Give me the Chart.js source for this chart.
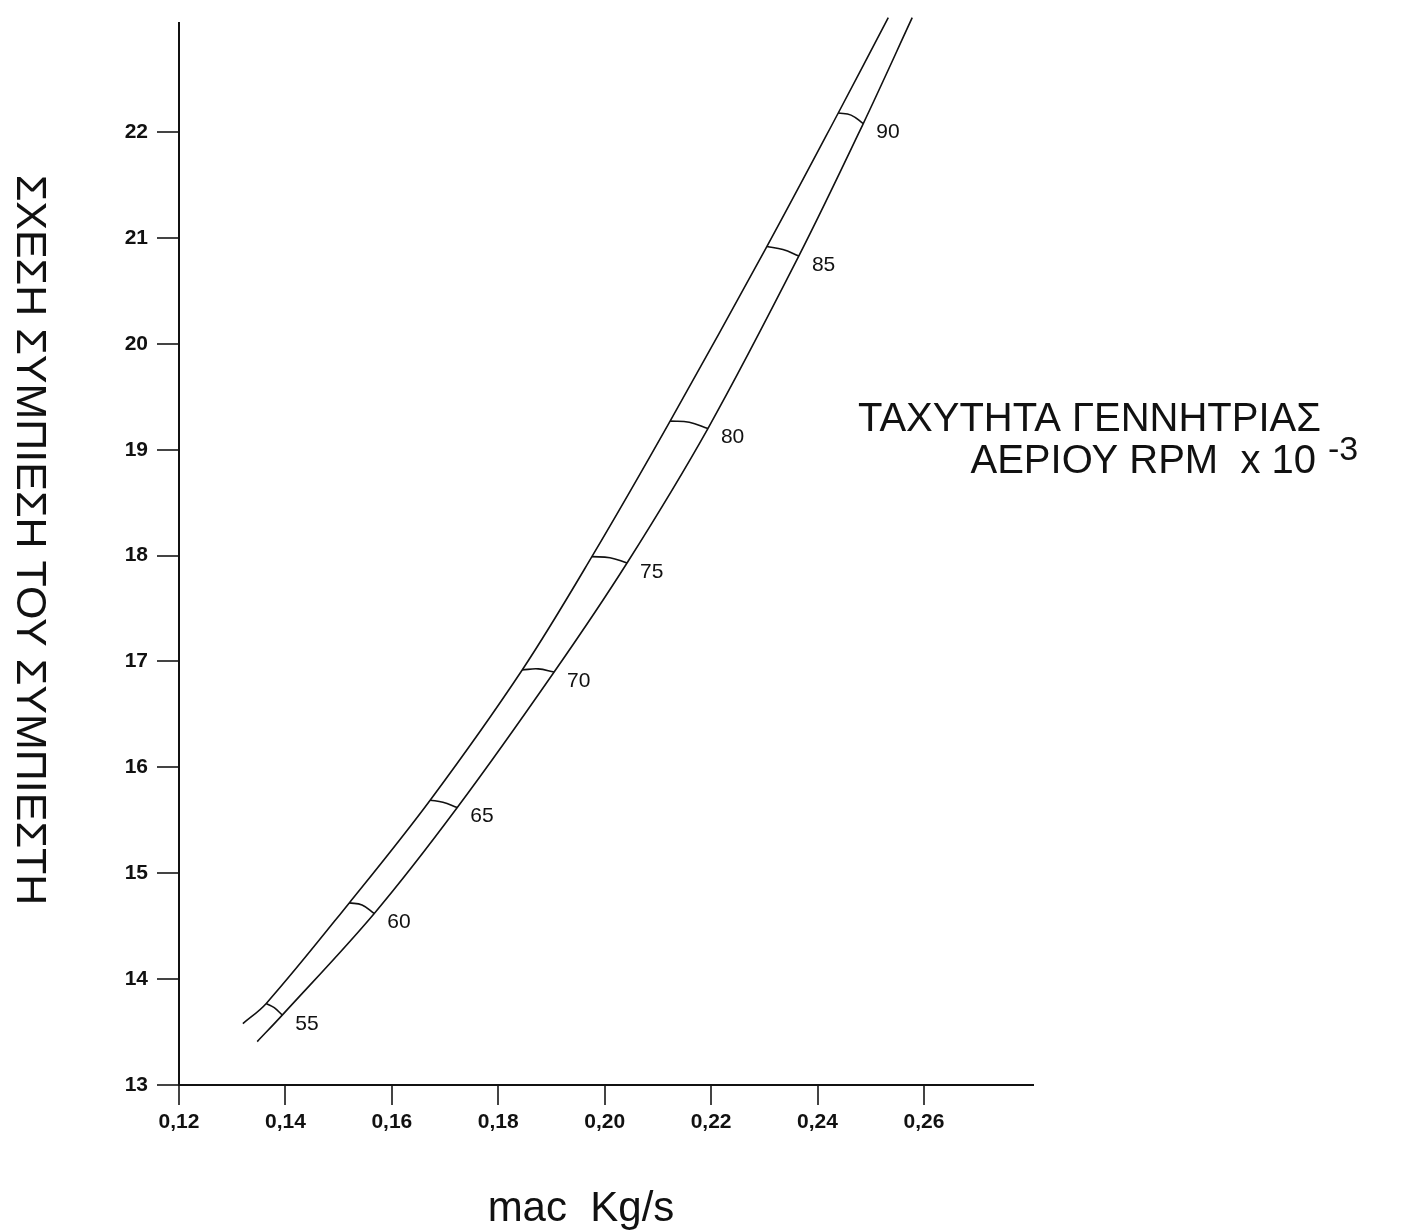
<!DOCTYPE html>
<html>
<head>
<meta charset="utf-8">
<script src="https://cdn.jsdelivr.net/npm/chart.js@4/dist/chart.umd.min.js"></script>
<style>
  html, body { margin: 0; padding: 0; background: #fff; }
  #wrap { width: 1402px; height: 1230px; }
</style>
</head>
<body>
<div id="wrap"><canvas id="chart" width="1402" height="1230"></canvas></div>
<script>
'use strict';

// axis ticks
const xTicks = [0.12, 0.14, 0.16, 0.18, 0.20, 0.22, 0.24, 0.26];
const yTicks = [13, 14, 15, 16, 17, 18, 19, 20, 21, 22];

// upper (left) boundary curve
const upperX = [0.1320, 0.1364, 0.1520, 0.1672, 0.1845, 0.1976, 0.2123, 0.2305, 0.2439, 0.2533];
const upperY = [13.58, 13.77, 14.72, 15.69, 16.92, 17.99, 19.27, 20.92, 22.18, 23.08];

// lower (right) boundary curve
const lowerX = [0.1347, 0.1394, 0.1567, 0.1723, 0.1905, 0.2042, 0.2194, 0.2365, 0.2486, 0.2578];
const lowerY = [13.41, 13.66, 14.62, 15.62, 16.90, 17.93, 19.20, 20.83, 22.08, 23.08];

// generator speed lines (RPM x 10^-3)
const speeds      = [55, 60, 65, 70, 75, 80, 85, 90];
const speedUpX    = [0.1364, 0.1520, 0.1672, 0.1845, 0.1976, 0.2123, 0.2305, 0.2439];
const speedUpY    = [13.77, 14.72, 15.69, 16.92, 17.99, 19.27, 20.92, 22.18];
const speedMidX   = [0.1379, 0.1544, 0.1696, 0.1875, 0.2010, 0.2159, 0.2335, 0.2463];
const speedMidY   = [13.73, 14.70, 15.67, 16.93, 17.98, 19.26, 20.89, 22.16];
const speedLowX   = [0.1394, 0.1567, 0.1723, 0.1905, 0.2042, 0.2194, 0.2365, 0.2486];
const speedLowY   = [13.66, 14.62, 15.62, 16.90, 17.93, 19.20, 20.83, 22.08];

const FONT = "'Liberation Sans', Arial, sans-serif";
const pts = (xs, ys) => xs.map((x, i) => ({ x, y: ys[i] }));
const fmt = v => v.toFixed(2).replace('.', ',');

const curveStyle = {
  borderColor: '#111', borderWidth: 1.6, pointRadius: 0,
  tension: 0.35, clip: false, fill: false
};

const datasets = [
  { label: 'upper', data: pts(upperX, upperY), ...curveStyle },
  { label: 'lower', data: pts(lowerX, lowerY), ...curveStyle }
];
speeds.forEach((s, i) => {
  datasets.push({
    label: String(s),
    data: [
      { x: speedUpX[i],  y: speedUpY[i] },
      { x: speedMidX[i], y: speedMidY[i] },
      { x: speedLowX[i], y: speedLowY[i] }
    ],
    borderColor: '#111', borderWidth: 1.6, pointRadius: 0, tension: 0.4, fill: false
  });
});

// text drawn on top: speed labels, axis titles, side note
const textPlugin = {
  id: 'texts',
  afterDatasetsDraw(chart) {
    const { ctx, scales: { x, y } } = chart;
    ctx.save();
    ctx.fillStyle = '#111';

    ctx.font = `21px ${FONT}`;
    ctx.textAlign = 'left';
    ctx.textBaseline = 'middle';
    speeds.forEach((s, i) => {
      const px = x.getPixelForValue(speedLowX[i]);
      const py = y.getPixelForValue(speedLowY[i]);
      ctx.fillText(String(s), px + 13, py + 9);
    });

    // x title
    ctx.font = `42px ${FONT}`;
    ctx.textAlign = 'center';
    ctx.textBaseline = 'alphabetic';
    ctx.fillText('mac  Kg/s', 581, 1221);

    // y title, reads top to bottom
    ctx.save();
    ctx.translate(29, 540);
    ctx.rotate(Math.PI / 2);
    ctx.font = `43px ${FONT}`;
    ctx.textBaseline = 'middle';
    ctx.fillText('ΣΧΕΣΗ ΣΥΜΠΙΕΣΗ ΤΟΥ ΣΥΜΠΙΕΣΤΗ', 0, 0);
    ctx.restore();

    // side note
    ctx.font = `40px ${FONT}`;
    ctx.textAlign = 'right';
    ctx.fillText('ΤΑΧΥΤΗΤΑ ΓΕΝΝΗΤΡΙΑΣ', 1321, 431);
    ctx.fillText('ΑΕΡΙΟΥ RPM  x 10', 1316, 473);
    ctx.textAlign = 'left';
    ctx.font = `34px ${FONT}`;
    ctx.fillText('-3', 1328, 460);

    ctx.restore();
  }
};

new Chart(document.getElementById('chart'), {
  type: 'line',
  data: { datasets },
  options: {
    responsive: false,
    animation: false,
    events: [],
    layout: { padding: { top: 23, right: 369, left: 0, bottom: 0 } },
    plugins: { legend: { display: false }, tooltip: { enabled: false } },
    scales: {
      x: {
        type: 'linear', min: 0.12, max: 0.2805,
        afterBuildTicks: s => { s.ticks = xTicks.map(v => ({ value: v })); },
        afterFit: s => { s.height = 145; },
        border: { display: true, color: '#111', width: 2 },
        grid: { display: true, drawOnChartArea: false, drawTicks: true, tickLength: 20, color: '#444', lineWidth: 2 },
        ticks: { color: '#111', padding: 5, maxRotation: 0, font: { family: FONT, size: 21, weight: 'bold' }, callback: v => fmt(v) }
      },
      y: {
        type: 'linear', min: 13, max: 23.03,
        afterBuildTicks: s => { s.ticks = yTicks.map(v => ({ value: v })); },
        afterFit: s => { s.width = 179; },
        border: { display: true, color: '#111', width: 2 },
        grid: { display: true, drawOnChartArea: false, drawTicks: true, tickLength: 22, color: '#444', lineWidth: 2 },
        ticks: { color: '#111', padding: 9, font: { family: FONT, size: 21, weight: 'bold' }, callback: v => String(v) }
      }
    }
  },
  plugins: [textPlugin]
});
</script>
</body>
</html>
